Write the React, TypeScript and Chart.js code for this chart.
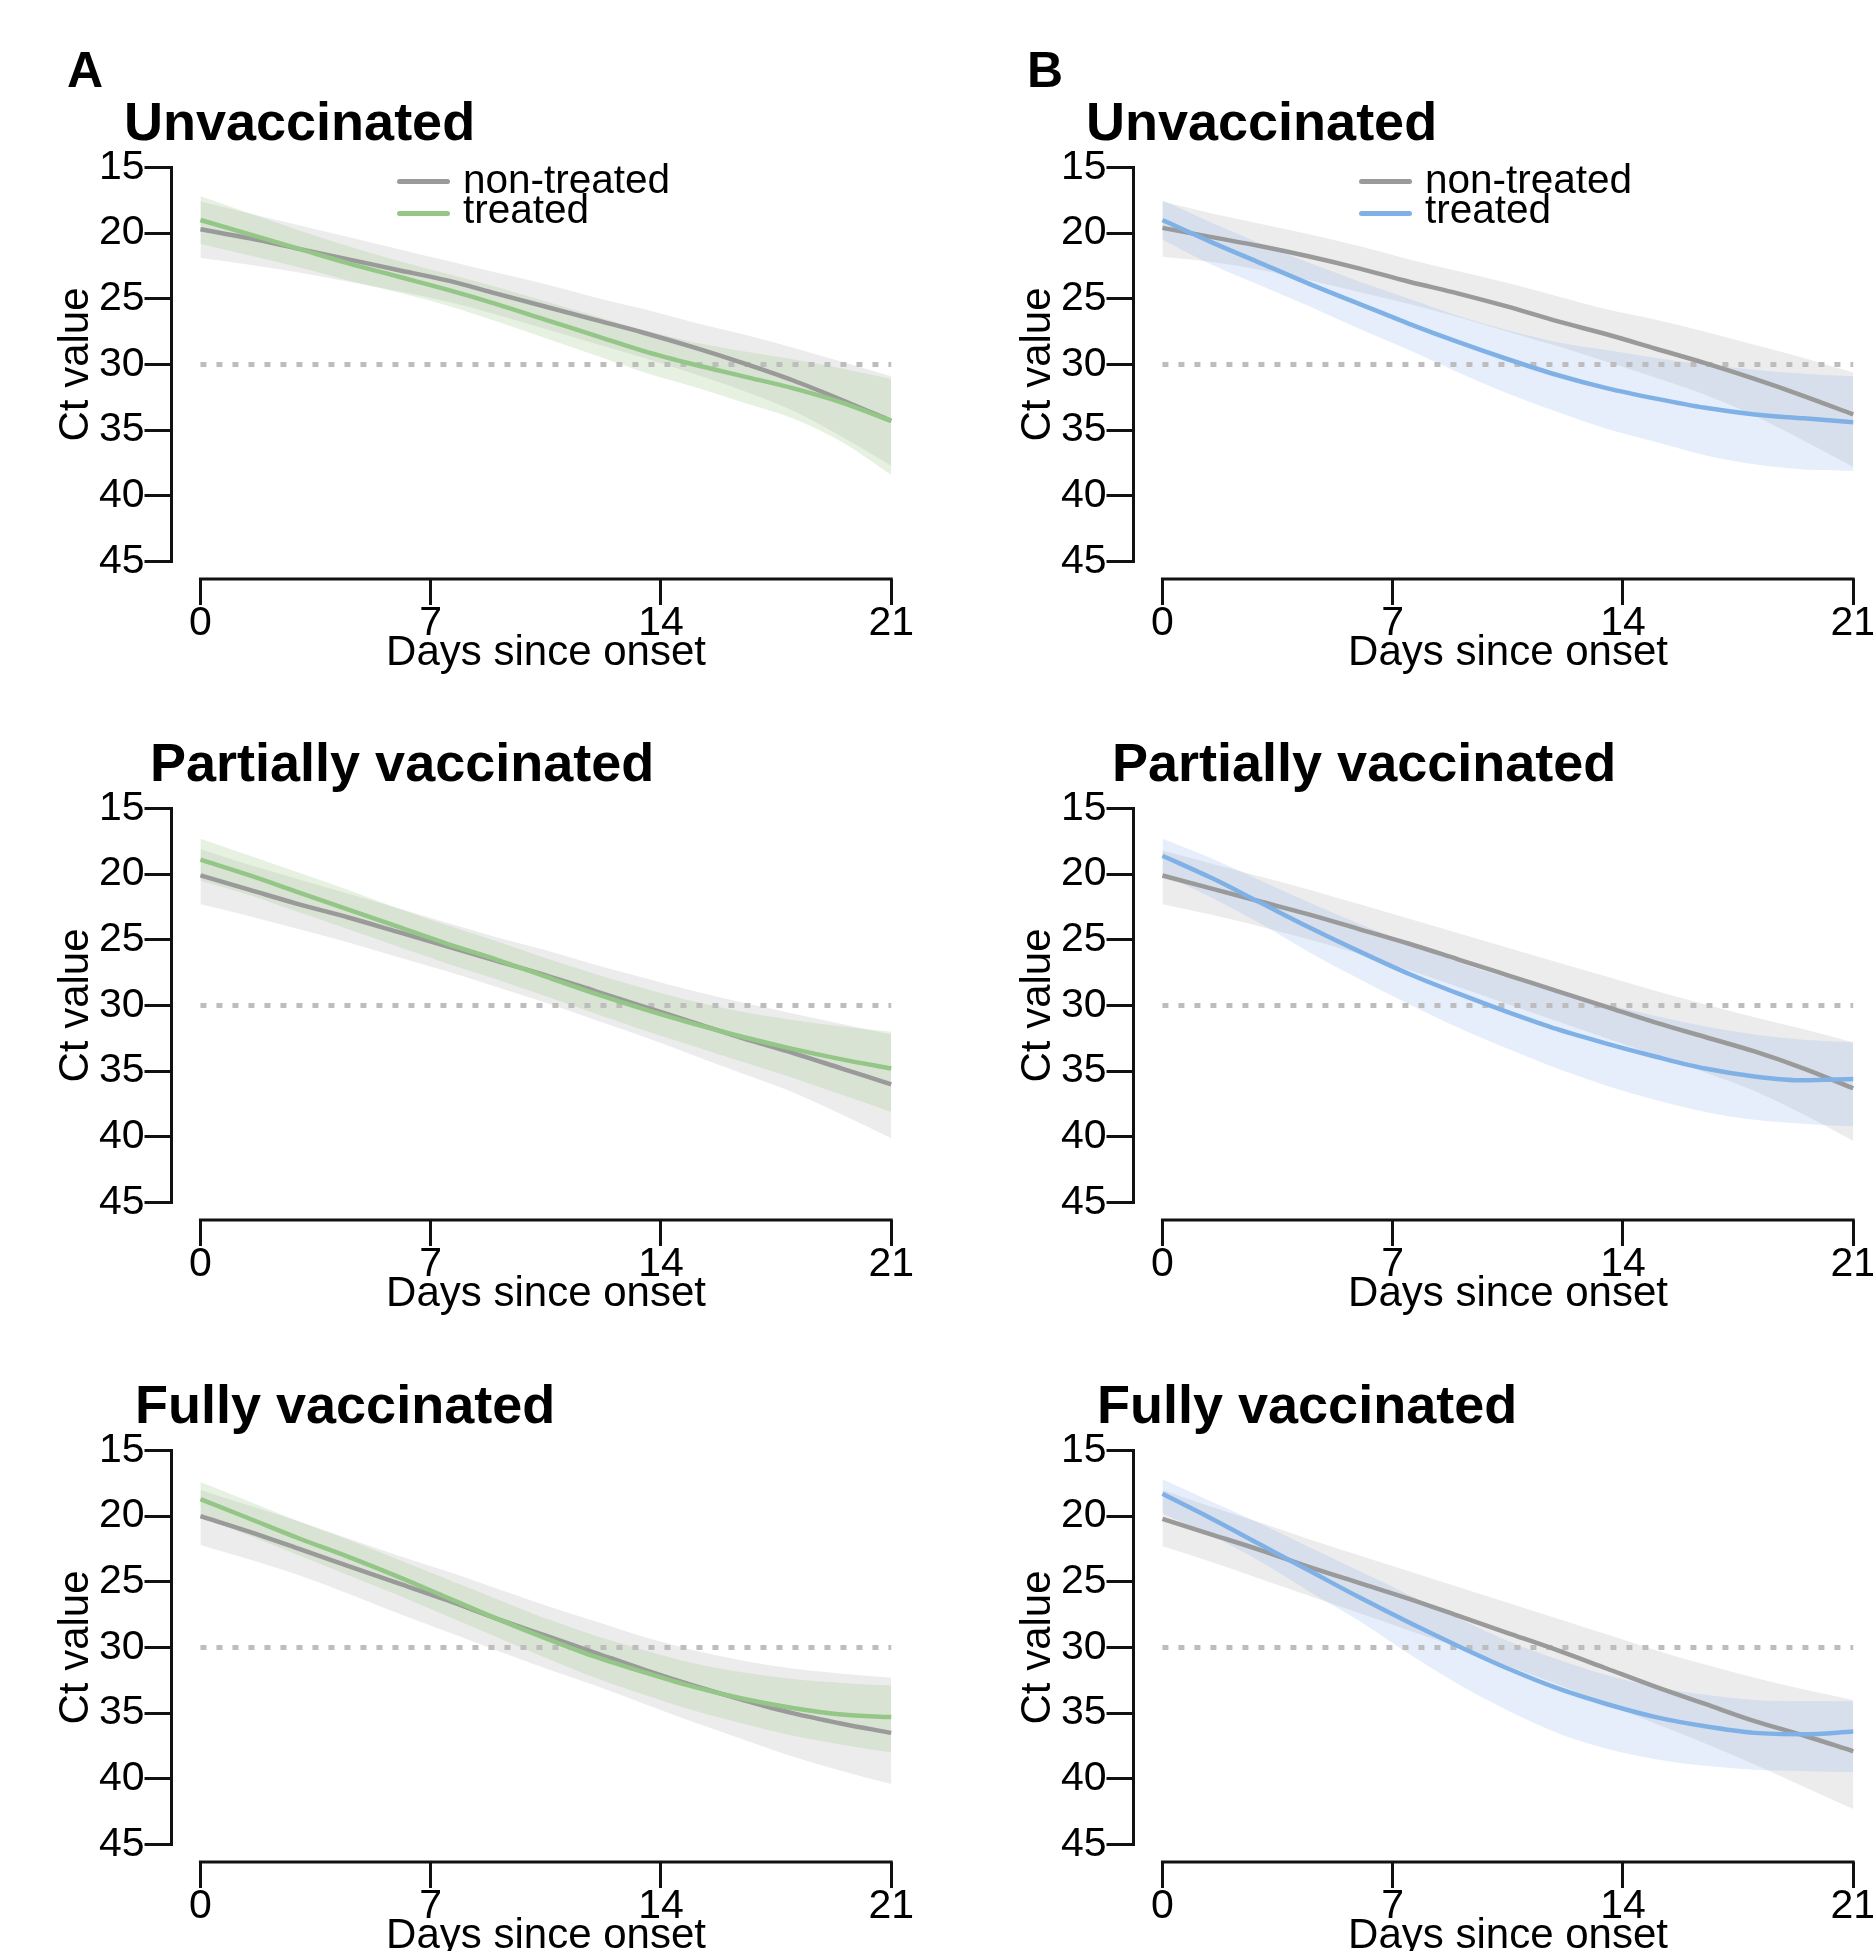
import React, { useEffect, useRef } from 'react';
import { Chart, registerables } from 'chart.js';

Chart.register(...registerables);

// ---------- data ----------
const DAYS = [0, 1.5, 3, 4.5, 6, 7.5, 9, 10.5, 12, 13.5, 15, 16.5, 18, 19.5, 21];
const X_TICKS = [0, 7, 14, 21];
const Y_TICKS = [15, 20, 25, 30, 35, 40, 45];
const THRESHOLD = 30;
const LEGEND_LABELS = ['non-treated', 'treated'];
const ROW_TITLES = ['Unvaccinated', 'Partially vaccinated', 'Fully vaccinated'];
const COLUMN_LETTERS = ['A', 'B'];
const X_TITLE = 'Days since onset';
const Y_TITLE = 'Ct value';

// Row 1 – Unvaccinated, column A (green)
const UNVAC_A_NT_MEAN = [19.7, 20.4, 21.2, 22.0, 22.8, 23.6, 24.6, 25.6, 26.6, 27.6, 28.7, 29.9, 31.2, 32.7, 34.3];
const UNVAC_A_NT_LO = [17.6, 18.5, 19.4, 20.3, 21.2, 22.1, 23.0, 23.9, 24.9, 25.8, 26.8, 27.7, 28.7, 29.8, 30.9];
const UNVAC_A_NT_HI = [21.9, 22.4, 23.0, 23.7, 24.4, 25.2, 26.2, 27.3, 28.4, 29.5, 30.7, 32.0, 33.5, 35.5, 37.7];
const UNVAC_A_TR_MEAN = [19.0, 20.1, 21.2, 22.3, 23.3, 24.3, 25.4, 26.6, 27.8, 29.0, 30.0, 30.9, 31.8, 32.9, 34.3];
const UNVAC_A_TR_LO = [17.2, 18.5, 19.8, 21.0, 22.1, 23.1, 24.1, 25.2, 26.3, 27.4, 28.3, 29.0, 29.6, 30.3, 31.1];
const UNVAC_A_TR_HI = [20.8, 21.7, 22.6, 23.6, 24.5, 25.5, 26.7, 28.0, 29.3, 30.6, 31.7, 32.9, 34.1, 35.9, 38.4];

// Row 1 – Unvaccinated, column B (blue)
const UNVAC_B_NT_MEAN = [19.6, 20.3, 21.0, 21.8, 22.7, 23.7, 24.6, 25.6, 26.7, 27.7, 28.8, 29.9, 31.1, 32.4, 33.8];
const UNVAC_B_NT_LO = [17.6, 18.5, 19.3, 20.1, 21.0, 22.0, 22.9, 23.8, 24.8, 25.8, 26.6, 27.5, 28.5, 29.5, 30.6];
const UNVAC_B_NT_HI = [21.8, 22.2, 22.8, 23.6, 24.5, 25.4, 26.4, 27.5, 28.6, 29.8, 31.0, 32.3, 33.9, 35.8, 37.8];
const UNVAC_B_TR_MEAN = [19.0, 20.7, 22.3, 23.9, 25.4, 26.9, 28.3, 29.6, 30.8, 31.8, 32.6, 33.3, 33.8, 34.1, 34.4];
const UNVAC_B_TR_LO = [17.5, 19.2, 20.8, 22.3, 23.7, 25.0, 26.3, 27.4, 28.3, 28.9, 29.5, 30.0, 30.4, 30.7, 30.9];
const UNVAC_B_TR_HI = [20.5, 22.4, 24.0, 25.6, 27.3, 28.9, 30.6, 32.2, 33.6, 34.9, 35.9, 36.9, 37.6, 38.0, 38.1];

// Row 2 – Partially vaccinated, column A (green)
const PART_A_NT_MEAN = [20.1, 21.2, 22.3, 23.3, 24.4, 25.5, 26.6, 27.7, 28.9, 30.1, 31.3, 32.5, 33.6, 34.8, 36.0];
const PART_A_NT_LO = [18.1, 19.3, 20.4, 21.5, 22.6, 23.7, 24.8, 25.8, 26.9, 27.9, 28.9, 29.8, 30.6, 31.4, 32.2];
const PART_A_NT_HI = [22.3, 23.2, 24.2, 25.2, 26.3, 27.4, 28.6, 29.8, 31.1, 32.4, 33.8, 35.2, 36.6, 38.3, 40.1];
const PART_A_TR_MEAN = [18.9, 20.1, 21.4, 22.7, 24.0, 25.3, 26.5, 27.8, 29.1, 30.3, 31.4, 32.4, 33.3, 34.1, 34.8];
const PART_A_TR_LO = [17.3, 18.6, 19.9, 21.2, 22.6, 23.9, 25.1, 26.4, 27.6, 28.7, 29.7, 30.5, 31.1, 31.6, 32.0];
const PART_A_TR_HI = [20.5, 21.6, 22.9, 24.2, 25.5, 26.8, 28.0, 29.3, 30.6, 31.9, 33.1, 34.3, 35.5, 36.8, 38.1];

// Row 2 – Partially vaccinated, column B (blue)
const PART_B_NT_MEAN = [20.1, 21.1, 22.1, 23.1, 24.2, 25.3, 26.5, 27.7, 28.9, 30.1, 31.3, 32.4, 33.5, 34.8, 36.3];
const PART_B_NT_LO = [18.2, 19.2, 20.2, 21.2, 22.3, 23.4, 24.5, 25.6, 26.7, 27.8, 28.9, 29.9, 30.9, 31.8, 32.8];
const PART_B_NT_HI = [22.3, 23.1, 24.0, 25.0, 26.1, 27.3, 28.6, 29.9, 31.2, 32.5, 33.8, 35.1, 36.5, 38.3, 40.3];
const PART_B_TR_MEAN = [18.6, 20.3, 22.2, 24.1, 25.9, 27.6, 29.1, 30.5, 31.8, 32.9, 33.9, 34.8, 35.4, 35.7, 35.6];
const PART_B_TR_LO = [17.3, 18.8, 20.5, 22.2, 23.8, 25.3, 26.7, 27.9, 29.0, 29.9, 30.8, 31.6, 32.2, 32.6, 32.8];
const PART_B_TR_HI = [20.0, 21.8, 23.8, 26.0, 28.0, 29.9, 31.7, 33.3, 34.8, 36.1, 37.2, 38.1, 38.7, 39.0, 39.2];

// Row 3 – Fully vaccinated, column A (green)
const FULL_A_NT_MEAN = [20.0, 21.2, 22.5, 23.8, 25.1, 26.4, 27.8, 29.1, 30.4, 31.7, 32.9, 34.0, 35.0, 35.8, 36.5];
const FULL_A_NT_LO = [18.0, 19.2, 20.4, 21.7, 23.0, 24.2, 25.5, 26.8, 28.0, 29.2, 30.2, 31.0, 31.6, 32.0, 32.3];
const FULL_A_NT_HI = [22.2, 23.3, 24.5, 25.9, 27.4, 28.8, 30.2, 31.6, 32.9, 34.3, 35.7, 37.0, 38.3, 39.4, 40.4];
const FULL_A_TR_MEAN = [18.7, 20.2, 21.7, 23.1, 24.6, 26.2, 27.8, 29.3, 30.7, 31.9, 33.0, 33.9, 34.6, 35.1, 35.3];
const FULL_A_TR_LO = [17.4, 18.9, 20.4, 21.8, 23.3, 24.8, 26.3, 27.8, 29.1, 30.2, 31.2, 31.9, 32.4, 32.7, 32.9];
const FULL_A_TR_HI = [20.1, 21.5, 23.0, 24.5, 26.0, 27.6, 29.2, 30.8, 32.3, 33.6, 34.8, 35.8, 36.7, 37.4, 38.0];

// Row 3 – Fully vaccinated, column B (blue)
const FULL_B_NT_MEAN = [20.2, 21.4, 22.6, 23.9, 25.1, 26.3, 27.6, 28.9, 30.2, 31.6, 33.0, 34.3, 35.6, 36.7, 37.9];
const FULL_B_NT_LO = [18.0, 19.3, 20.5, 21.8, 23.0, 24.2, 25.4, 26.6, 27.8, 29.0, 30.2, 31.3, 32.3, 33.2, 34.0];
const FULL_B_NT_HI = [22.3, 23.5, 24.8, 26.1, 27.4, 28.7, 30.0, 31.4, 32.8, 34.3, 35.8, 37.3, 38.9, 40.6, 42.3];
const FULL_B_TR_MEAN = [18.3, 20.2, 22.2, 24.2, 26.2, 28.1, 29.9, 31.6, 33.1, 34.3, 35.3, 36.0, 36.5, 36.6, 36.4];
const FULL_B_TR_LO = [17.2, 18.9, 20.6, 22.4, 24.2, 26.0, 27.8, 29.5, 30.9, 32.1, 33.0, 33.6, 34.0, 34.1, 34.1];
const FULL_B_TR_HI = [19.8, 21.5, 23.5, 25.8, 28.0, 30.5, 32.8, 34.8, 36.5, 37.7, 38.5, 39.0, 39.3, 39.4, 39.5];

// ---------- styles ----------
const FONT = "'Liberation Sans', Arial, Helvetica, sans-serif";
const GRAY_LINE = '#9a9a9a';
const GRAY_FILL = 'rgba(150,150,150,0.18)';
const GREEN_LINE = '#94c787';
const GREEN_FILL = 'rgba(140,190,120,0.22)';
const BLUE_LINE = '#80b1e6';
const BLUE_FILL = 'rgba(125,172,232,0.2)';
const DOT_COLOR = '#bdbdbd';
const AXIS_COLOR = '#111111';

const COL_DX = 962;
const ROW_TOPS = [0, 641, 1283];
const CANVAS_W = 962;
const CANVAS_H = 689;

type Series = { ntMean: number[]; ntLo: number[]; ntHi: number[]; trMean: number[]; trLo: number[]; trHi: number[] };

const PANELS: { row: number; col: number; s: Series }[] = [
  { row: 0, col: 0, s: { ntMean: UNVAC_A_NT_MEAN, ntLo: UNVAC_A_NT_LO, ntHi: UNVAC_A_NT_HI, trMean: UNVAC_A_TR_MEAN, trLo: UNVAC_A_TR_LO, trHi: UNVAC_A_TR_HI } },
  { row: 0, col: 1, s: { ntMean: UNVAC_B_NT_MEAN, ntLo: UNVAC_B_NT_LO, ntHi: UNVAC_B_NT_HI, trMean: UNVAC_B_TR_MEAN, trLo: UNVAC_B_TR_LO, trHi: UNVAC_B_TR_HI } },
  { row: 1, col: 0, s: { ntMean: PART_A_NT_MEAN, ntLo: PART_A_NT_LO, ntHi: PART_A_NT_HI, trMean: PART_A_TR_MEAN, trLo: PART_A_TR_LO, trHi: PART_A_TR_HI } },
  { row: 1, col: 1, s: { ntMean: PART_B_NT_MEAN, ntLo: PART_B_NT_LO, ntHi: PART_B_NT_HI, trMean: PART_B_TR_MEAN, trLo: PART_B_TR_LO, trHi: PART_B_TR_HI } },
  { row: 2, col: 0, s: { ntMean: FULL_A_NT_MEAN, ntLo: FULL_A_NT_LO, ntHi: FULL_A_NT_HI, trMean: FULL_A_TR_MEAN, trLo: FULL_A_TR_LO, trHi: FULL_A_TR_HI } },
  { row: 2, col: 1, s: { ntMean: FULL_B_NT_MEAN, ntLo: FULL_B_NT_LO, ntHi: FULL_B_NT_HI, trMean: FULL_B_TR_MEAN, trLo: FULL_B_TR_LO, trHi: FULL_B_TR_HI } },
];

const pts = (vals: number[]) => DAYS.map((d, i) => ({ x: d, y: vals[i] }));

const axisLines = {
  id: 'axisLines',
  afterDraw(chart: any) {
    const { ctx, chartArea } = chart;
    const x = chart.scales.x;
    const y = chart.scales.y;
    ctx.save();
    ctx.strokeStyle = AXIS_COLOR;
    ctx.lineWidth = 3;
    ctx.lineCap = 'square';
    ctx.beginPath();
    ctx.moveTo(chartArea.left, y.getPixelForValue(Y_TICKS[0]));
    ctx.lineTo(chartArea.left, y.getPixelForValue(Y_TICKS[Y_TICKS.length - 1]));
    ctx.moveTo(x.getPixelForValue(X_TICKS[0]), chartArea.bottom);
    ctx.lineTo(x.getPixelForValue(X_TICKS[X_TICKS.length - 1]), chartArea.bottom);
    ctx.stroke();
    ctx.restore();
  },
};

function Panel({ left, top, s, col }: { left: number; top: number; s: Series; col: number }) {
  const ref = useRef<HTMLCanvasElement | null>(null);
  useEffect(() => {
    if (!ref.current) return;
    const lineColor = col === 0 ? GREEN_LINE : BLUE_LINE;
    const fillColor = col === 0 ? GREEN_FILL : BLUE_FILL;
    const base = { pointRadius: 0, pointHoverRadius: 0, cubicInterpolationMode: 'monotone' as const };
    const chart = new Chart(ref.current, {
      type: 'line',
      data: {
        datasets: [
          { ...base, label: LEGEND_LABELS[1], data: pts(s.trMean), borderColor: lineColor, borderWidth: 4.5, fill: false },
          { ...base, label: LEGEND_LABELS[0], data: pts(s.ntMean), borderColor: GRAY_LINE, borderWidth: 4.5, fill: false },
          {
            ...base,
            label: 'threshold',
            data: [{ x: X_TICKS[0], y: THRESHOLD }, { x: X_TICKS[X_TICKS.length - 1], y: THRESHOLD }],
            borderColor: DOT_COLOR,
            borderWidth: 5,
            borderDash: [6, 10],
            fill: false,
          },
          { ...base, label: 'tr-hi', data: pts(s.trHi), borderColor: 'rgba(0,0,0,0)', borderWidth: 0, backgroundColor: fillColor, fill: '+1' },
          { ...base, label: 'tr-lo', data: pts(s.trLo), borderColor: 'rgba(0,0,0,0)', borderWidth: 0, fill: false },
          { ...base, label: 'nt-hi', data: pts(s.ntHi), borderColor: 'rgba(0,0,0,0)', borderWidth: 0, backgroundColor: GRAY_FILL, fill: '+1' },
          { ...base, label: 'nt-lo', data: pts(s.ntLo), borderColor: 'rgba(0,0,0,0)', borderWidth: 0, fill: false },
        ],
      },
      options: {
        animation: false,
        responsive: false,
        maintainAspectRatio: false,
        devicePixelRatio: 1,
        events: [],
        layout: { padding: { top: 150, left: 0, right: 41.5, bottom: 0 } },
        plugins: {
          legend: { display: false },
          tooltip: { enabled: false },
          title: { display: false },
        },
        scales: {
          x: {
            type: 'linear',
            min: -0.88,
            max: 21.89,
            afterBuildTicks: (sc: any) => {
              sc.ticks = X_TICKS.map((v) => ({ value: v }));
            },
            afterFit: (sc: any) => {
              sc.height = 110;
            },
            border: { display: false },
            grid: { drawOnChartArea: false, drawTicks: true, tickLength: 26, color: AXIS_COLOR, lineWidth: 3 },
            ticks: { color: '#000', padding: 0, maxRotation: 0, autoSkip: false, font: { family: FONT, size: 41, lineHeight: 0.9 } },
            title: { display: true, text: X_TITLE, color: '#000', font: { family: FONT, size: 42, lineHeight: 1 }, padding: { top: 0, bottom: 14.5 } },
          },
          y: {
            type: 'linear',
            reverse: true,
            min: 13.67,
            max: 46.33,
            afterBuildTicks: (sc: any) => {
              sc.ticks = Y_TICKS.map((v) => ({ value: v }));
            },
            afterFit: (sc: any) => {
              sc.width = 171.5;
            },
            border: { display: false },
            grid: { drawOnChartArea: false, drawTicks: true, tickLength: 27, color: AXIS_COLOR, lineWidth: 3 },
            ticks: { color: '#000', padding: 0, autoSkip: false, font: { family: FONT, size: 41, lineHeight: 1 } },
            title: { display: true, text: Y_TITLE, color: '#000', font: { family: FONT, size: 42, lineHeight: 1 }, padding: { top: 55, bottom: 0 } },
          },
        },
      },
      plugins: [axisLines],
    } as any);
    return () => chart.destroy();
  }, [s, col]);
  return (
    <canvas
      ref={ref}
      width={CANVAS_W}
      height={CANVAS_H}
      style={{ position: 'absolute', left, top, width: CANVAS_W, height: CANVAS_H }}
    />
  );
}

const textBase: React.CSSProperties = {
  position: 'absolute',
  margin: 0,
  whiteSpace: 'nowrap',
  lineHeight: 1,
  fontFamily: FONT,
  color: '#000',
};

const TITLE_LEFTS = [124, 150, 135];
const TITLE_TOPS = [94.3, 735.3, 1376.8];

export default function App() {
  return (
    <div style={{ position: 'absolute', left: 0, top: 0, width: 1873, height: 1951, overflow: 'hidden', background: '#fff' }}>
      {PANELS.map((p, i) => (
        <Panel key={i} left={p.col * COL_DX} top={ROW_TOPS[p.row]} s={p.s} col={p.col} />
      ))}
      {COLUMN_LETTERS.map((l, c) => (
        <div key={l} style={{ ...textBase, left: c === 0 ? 67 : 1027, top: 45, fontSize: 50, fontWeight: 700 }}>
          {l}
        </div>
      ))}
      {[0, 1].map((c) =>
        ROW_TITLES.map((t, r) => (
          <div key={t + c} style={{ ...textBase, left: TITLE_LEFTS[r] + c * COL_DX, top: TITLE_TOPS[r], fontSize: 54, fontWeight: 700 }}>
            {t}
          </div>
        ))
      )}
      {[0, 1].map((c) => (
        <React.Fragment key={'lg' + c}>
          <div style={{ position: 'absolute', left: 397 + c * COL_DX, top: 179.2, width: 53, height: 5, borderRadius: 2.5, background: GRAY_LINE }} />
          <div style={{ position: 'absolute', left: 397 + c * COL_DX, top: 210.8, width: 53, height: 5, borderRadius: 2.5, background: c === 0 ? GREEN_LINE : BLUE_LINE }} />
          <div style={{ ...textBase, left: 463 + c * COL_DX, top: 158.8, fontSize: 40.5 }}>{LEGEND_LABELS[0]}</div>
          <div style={{ ...textBase, left: 463 + c * COL_DX, top: 188.8, fontSize: 40.5 }}>{LEGEND_LABELS[1]}</div>
        </React.Fragment>
      ))}
    </div>
  );
}
